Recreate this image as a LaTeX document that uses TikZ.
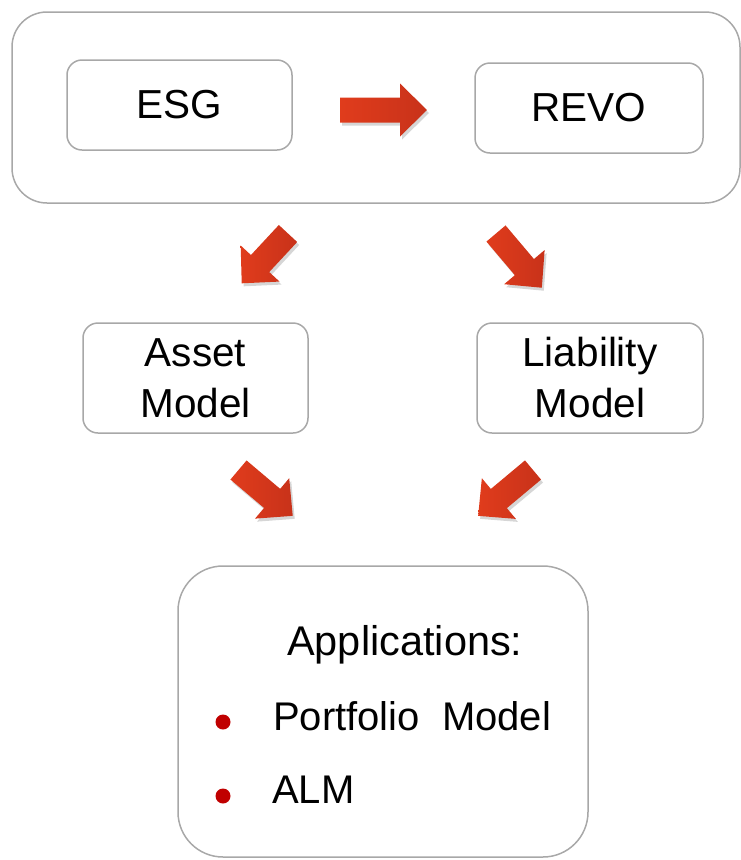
\documentclass[tikz,border=0pt]{standalone}
\usepackage{fontspec}
\setmainfont{Liberation Sans}
\definecolor{boxgray}{HTML}{A8A8A8}
\definecolor{arrowlight}{HTML}{E03C1C}
\definecolor{arrowdark}{HTML}{C8321A}
\definecolor{bulletred}{HTML}{C00000}
\newcommand\redarrow[3]{%
  \begin{scope}[shift={(#1)},xshift=2pt,yshift=-3pt,rotate=#2]
    \fill[black,opacity=0.16] (0,-12.5) -- ({#3-27},-12.5) -- ({#3-27},-26.5) -- (#3,0) -- ({#3-27},26.5) -- ({#3-27},12.5) -- (0,12.5) -- cycle;
  \end{scope}
  \begin{scope}[shift={(#1)},rotate=#2]
    \shade[left color=arrowlight,right color=arrowdark] (0,-12.5) -- ({#3-27},-12.5) -- ({#3-27},-26.5) -- (#3,0) -- ({#3-27},26.5) -- ({#3-27},12.5) -- (0,12.5) -- cycle;
  \end{scope}}
\tikzset{
  box/.style={draw=boxgray, line width=1.5pt, rounded corners=15pt, fill=white,
    inner sep=0pt, align=center, font=\fontsize{40.5}{51}\selectfont},
  bigbox/.style={draw=boxgray, line width=1.5pt, inner sep=0pt},
  label/.style={anchor=base west, inner sep=0pt, font=\fontsize{40}{48}\selectfont},
  bullet/.style={circle, fill=bulletred, minimum size=15pt, inner sep=0pt}
}
\begin{document}
\begin{tikzpicture}[x=1pt,y=-1pt]
\useasboundingbox (0,0) rectangle (741,860);
% outer group
\node[bigbox, rounded corners=35pt, minimum width=728pt, minimum height=191pt] (group) at (376,107.5) {};
\node[box, minimum width=225pt, minimum height=90pt] (esg) at (179.5,105) {ESG};
\node[box, minimum width=228pt, minimum height=90pt] (revo) at (589,108) {REVO};
\node[box, minimum width=225pt, minimum height=110pt] (asset) at (195.5,378) {Asset\\Model};
\node[box, minimum width=226pt, minimum height=110pt] (liab) at (590,378) {Liability\\Model};
% applications
\node[bigbox, rounded corners=45pt, minimum width=410pt, minimum height=291pt] (apps) at (383,711.5) {};
\node[label, font=\fontsize{41.5}{48}\selectfont] (apphead) at (287,655) {Applications:};
\node[label] (port) at (273,730) {Portfolio\ \ Model};
\node[label] (alm) at (272,803) {ALM};
\node[bullet] (b1) at (223,722) {};
\node[bullet] (b2) at (223,796) {};
% arrows
\coordinate (h1) at (340,110);
\coordinate (d1) at (288,233.5);
\coordinate (d2) at (496,233.5);
\coordinate (d3) at (238.5,470);
\coordinate (d4) at (533,470);
\redarrow{h1}{0}{87}
\redarrow{d1}{227.1}{68}
\redarrow{d2}{-49.8}{71}
\redarrow{d3}{-40.2}{71}
\redarrow{d4}{219.9}{71.5}
\end{tikzpicture}
\end{document}
